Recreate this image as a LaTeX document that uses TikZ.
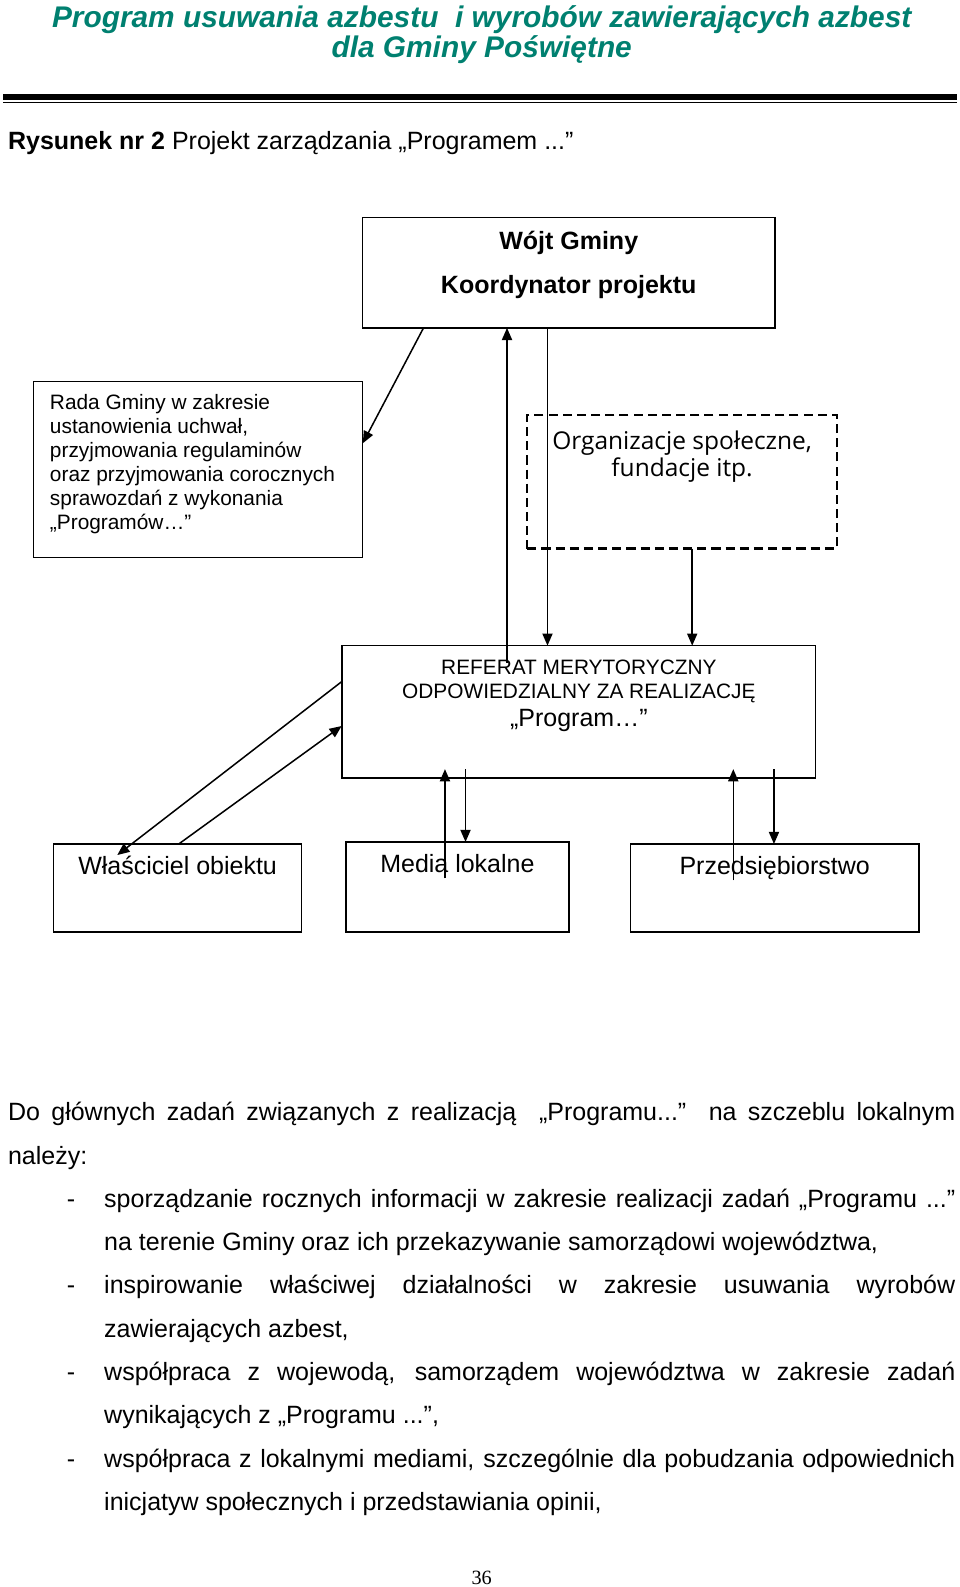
\documentclass[tikz,border=0pt]{standalone}
\usepackage{fontspec}
\setmainfont{Liberation Sans}
\newfontfamily\orgfont{Open Sans}
\newfontfamily\pgnumfont{Liberation Serif}
\usetikzlibrary{arrows.meta}
\definecolor{titlegreen}{RGB}{0,128,112}
\newcommand{\setfs}[1]{\fontsize{#1}{#1}\selectfont}
\begin{document}
\begin{tikzpicture}[x=1pt,y=-1pt,
  box/.style={draw, line width=1.5pt, inner sep=0pt, outer sep=0pt, anchor=north west},
  dbox/.style={box, dash pattern=on 9pt off 5pt, line width=2pt},
  lbl/.style={inner sep=0pt, outer sep=0pt, anchor=base, font=\setfs{24.7}},
  lblw/.style={lbl, anchor=base west},
  small/.style={inner sep=0pt, outer sep=0pt, anchor=base, font=\setfs{20.6}},
  smallw/.style={small, anchor=base west},
  arr/.style={-{Triangle[length=12pt,width=10pt]}, line width=1.5pt},
]
\useasboundingbox (0,0) rectangle (948.6,1568.2);

% header
\node[lbl, font=\bfseries\itshape\setfs{29.5}, text=titlegreen] (t1) at (476,27.5) {Program usuwania azbestu\ \ i wyrobów zawierających azbest};
\node[lbl, font=\bfseries\itshape\setfs{29.5}, text=titlegreen] (t2) at (476,57) {dla Gminy Poświętne};
\fill (3,93.2) rectangle (946,98.8);
\fill (3,100.5) rectangle (946,101.8);
\node[lblw] (rys) at (8,147.4) {\textbf{Rysunek nr 2} Projekt zarządzania „Programem ...”};

% boxes
\node[box, minimum width=408pt, minimum height=109pt] (wojt) at (358,215) {};
\node[box, minimum width=325pt, minimum height=174pt] (rada) at (33,377) {};
\node[dbox, minimum width=306pt, minimum height=132pt] (org) at (521,410) {};
\node[box, minimum width=468pt, minimum height=131pt] (ref) at (338,638) {};
\node[box, minimum width=245pt, minimum height=87pt] (wlas) at (53,834) {};
\node[box, minimum width=220pt, minimum height=89pt] (media) at (342,832) {};
\node[box, minimum width=285pt, minimum height=87pt] (przed) at (623,834) {};

% box texts
\node[lbl, font=\bfseries\setfs{24.7}] (w1) at (562,246.5) {Wójt Gminy};
\node[lbl, font=\bfseries\setfs{24.7}] (w2) at (562,290) {Koordynator projektu};

\node[smallw] (r1) at (49.4,404.5) {Rada Gminy w zakresie};
\node[smallw] (r2) at (49.4,428.3) {ustanowienia uchwał,};
\node[smallw] (r3) at (49.4,452.1) {przyjmowania regulaminów};
\node[smallw] (r4) at (49.4,475.9) {oraz przyjmowania corocznych};
\node[smallw] (r5) at (49.4,499.7) {sprawozdań z wykonania};
\node[smallw] (r6) at (49.4,523.5) {„Programów…”};

\node[lbl, font=\orgfont\setfs{24.2}] (o1) at (674,443.8) {Organizacje społeczne,};
\node[lbl, font=\orgfont\setfs{24.2}] (o2) at (674,470.6) {fundacje itp.};

\node[small] (f1) at (572,666.3) {REFERAT MERYTORYCZNY};
\node[small] (f2) at (572,690) {ODPOWIEDZIALNY ZA REALIZACJĘ};
\node[lbl] (f3) at (572,718) {„Program…”};

\node[lbl] (wl) at (175.5,864.4) {Właściciel obiektu};
\node[lbl] (me) at (452,862.4) {Media lokalne};
\node[lbl] (pr) at (765.5,864.4) {Przedsiębiorstwo};

% connectors
\coordinate (a1s) at (418.5,324);
\coordinate (a1e) at (358.5,438);
\draw[arr] (a1s) -- (a1e);
\coordinate (a2s) at (501,655);
\coordinate (a2e) at (501,324);
\draw[arr] (a2s) -- (a2e);
\coordinate (a3s) at (541,324);
\coordinate (a3e) at (541,638);
\draw[arr] (a3s) -- (a3e);
\coordinate (a4s) at (684,542);
\coordinate (a4e) at (684,638);
\draw[arr] (a4s) -- (a4e);
\coordinate (a5s) at (337.6,673.6);
\coordinate (a5e) at (115.9,844.9);
\draw[arr] (a5s) -- (a5e);
\coordinate (a6s) at (176.2,834.3);
\coordinate (a6e) at (337.6,717.4);
\draw[arr] (a6s) -- (a6e);
\coordinate (a7s) at (439.7,868);
\coordinate (a7e) at (439.7,760);
\draw[arr] (a7s) -- (a7e);
\coordinate (a8s) at (460,760);
\coordinate (a8e) at (460,832);
\draw[arr] (a8s) -- (a8e);
\coordinate (a9s) at (724.6,870);
\coordinate (a9e) at (724.6,760);
\draw[arr] (a9s) -- (a9e);
\coordinate (a10s) at (764.8,760);
\coordinate (a10e) at (764.8,834);
\draw[arr] (a10s) -- (a10e);

% body text
\node[lblw] (b1) at (8,1107.4) {\makebox[936pt][s]{Do głównych zadań związanych z realizacją\ \ „Programu...” na szczeblu lokalnym}};
\node[lblw] (b2) at (8,1150.2) {należy:};
\node[lblw] (d1) at (66,1193) {-};
\node[lblw] (b3) at (103,1193) {\makebox[841pt][s]{sporządzanie rocznych informacji w zakresie realizacji zadań „Programu ...”}};
\node[lblw] (b4) at (103,1235.8) {na terenie Gminy oraz ich przekazywanie samorządowi województwa,};
\node[lblw] (d2) at (66,1278.6) {-};
\node[lblw] (b5) at (103,1278.6) {\makebox[841pt][s]{inspirowanie właściwej działalności w zakresie usuwania wyrobów}};
\node[lblw] (b6) at (103,1321.4) {zawierających azbest,};
\node[lblw] (d3) at (66,1364.2) {-};
\node[lblw] (b7) at (103,1364.2) {\makebox[841pt][s]{współpraca z wojewodą, samorządem województwa w zakresie zadań}};
\node[lblw] (b8) at (103,1407) {wynikających z „Programu ...”,};
\node[lblw] (d4) at (66,1449.8) {-};
\node[lblw] (b9) at (103,1449.8) {\makebox[841pt][s]{współpraca z lokalnymi mediami, szczególnie dla pobudzania odpowiednich}};
\node[lblw] (b10) at (103,1492.6) {inicjatyw społecznych i przedstawiania opinii,};

\node[lbl, font=\pgnumfont\setfs{20}] (pg) at (476,1565.5) {36};
\end{tikzpicture}
\end{document}
